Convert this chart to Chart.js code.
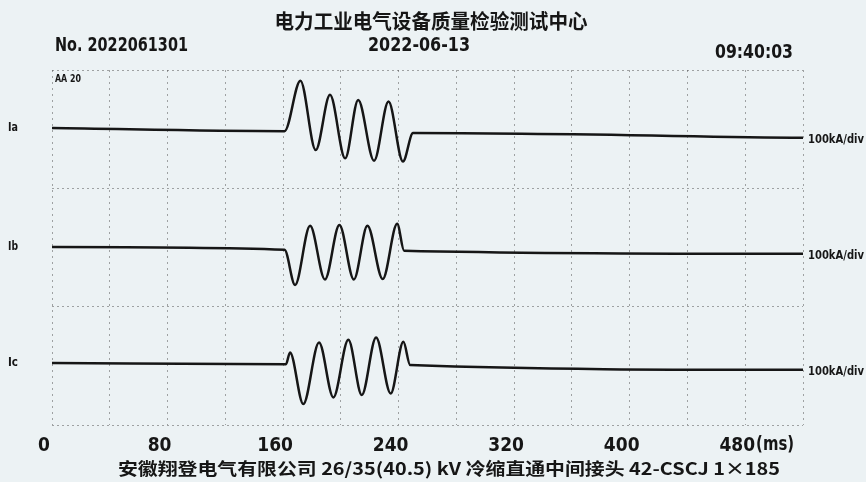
<!DOCTYPE html>
<html>
<head>
<meta charset="utf-8">
<script src="https://cdn.jsdelivr.net/npm/chart.js@4.4.1/dist/chart.umd.min.js"></script>
<style>
  html,body{margin:0;padding:0;background:#ecf2f4;}
  #wrap{width:866px;height:482px;position:relative;}
</style>
</head>
<body>
<div id="wrap"><canvas id="c"></canvas></div>
<script>
// ---- data ----
// time in ms, values in div relative to each channel's own zero line
const iaTime  = [0, 161, 172, 182.6, 192.5, 203, 212, 223, 233, 243, 250, 520];
const iaValue = [0.03, -0.05, 1.23, -0.53, 0.87, -0.74, 0.74, -0.80, 0.70, -0.82, -0.10, -0.22];
const ibTime  = [0, 161, 168.3, 178.7, 189, 199, 209, 218.4, 229, 239, 243.8, 520];
const ibValue = [0.01, -0.06, -0.95, 0.55, -0.81, 0.57, -0.81, 0.55, -0.80, 0.60, -0.08, -0.16];
const icTime  = [0, 162, 164.8, 174, 184.9, 194.8, 205.2, 214.5, 224.4, 234.5, 243.3, 248, 520];
const icValue = [0.07, 0.04, 0.34, -0.97, 0.59, -0.80, 0.66, -0.74, 0.72, -0.70, 0.61, 0.02, -0.10];
const channelNames = ['Ia', 'Ib', 'Ic'];
const channelScale = ['100kA/div', '100kA/div', '100kA/div'];
const xTickLabels = [0, 80, 160, 240, 320, 400, 480];
const titleText = '电力工业电气设备质量检验测试中心';
const dateText = '2022-06-13';
const numberText = 'No. 2022061301';
const timeText = '09:40:03';
const rangeText = 'AA 20';
const captionText = '安徽翔登电气有限公司 26/35(40.5) kV 冷缩直通中间接头 42-CSCJ 1×185';

// ---- layout / style ----
const channelOffset = [3, 0, -3];
const NARROW = '"Liberation Sans Narrow", "DejaVu Sans Condensed", "Roboto Condensed", sans-serif';
const CJK = '"Noto Sans CJK SC", "Noto Sans", sans-serif';
const INK = '#161616';

function series(t, v, off){ return t.map((x,i)=>({x:x, y:v[i]+off})); }

function fitText(ctx, text, x, y, w, font, align){
  ctx.save();
  ctx.font = font;
  ctx.textBaseline = 'middle';
  ctx.textAlign = 'left';
  const m = ctx.measureText(text).width;
  const s = w / m;
  let left = x;
  if (align === 'center') left = x - w/2;
  if (align === 'right') left = x - w;
  ctx.translate(left, y);
  ctx.scale(s, 1);
  ctx.fillStyle = INK;
  ctx.fillText(text, 0, 0);
  ctx.restore();
}

const bgPlugin = {
  id:'bg',
  beforeDraw(chart){
    const c = chart.ctx;
    c.save(); c.fillStyle = '#ecf2f4'; c.fillRect(0,0,chart.width,chart.height); c.restore();
  },
  afterDraw(chart){
    const c = chart.ctx;
    const ys = chart.scales.y, xs = chart.scales.x;
    fitText(c, titleText, 431, 21, 313, 'bold 20px ' + CJK, 'center');
    fitText(c, dateText, 419, 46, 102, 'bold 19px ' + NARROW, 'center');
    fitText(c, numberText, 55, 46, 133, 'bold 19px ' + NARROW, 'left');
    fitText(c, timeText, 715, 53, 78, 'bold 19px ' + NARROW, 'left');
    fitText(c, rangeText, 55, 79, 26, 'bold 11px ' + NARROW, 'left');
    const sets = [[iaTime, iaValue], [ibTime, ibValue], [icTime, icValue]];
    for (let i=0;i<3;i++){
      const v0 = sets[i][1][0] + channelOffset[i];
      const vEnd = sets[i][1][sets[i][1].length-1] + channelOffset[i];
      fitText(c, channelNames[i], 8, ys.getPixelForValue(v0), 10, 'bold 13px ' + NARROW, 'left');
      fitText(c, channelScale[i], 808, ys.getPixelForValue(vEnd) + 2, 56, 'bold 12px ' + NARROW, 'left');
    }
    // unit after the last tick label
    c.save();
    c.font = 'bold 19px ' + NARROW;
    const lastX = xs.getPixelForValue(480) - 8;
    const w480 = c.measureText('480').width;
    c.restore();
    fitText(c, '(ms)', lastX + w480/2 + 1, 445, 38, 'bold 19px ' + NARROW, 'left');
    fitText(c, captionText, 449, 469, 662, 'bold 17px ' + CJK, 'center');
  }
};

const lineStyle = {borderColor:INK, backgroundColor:INK, borderWidth:2.5, pointRadius:0, cubicInterpolationMode:'monotone', fill:false};

new Chart(document.getElementById('c'), {
  type:'line',
  data:{
    datasets:[
      Object.assign({label:channelNames[0], data:series(iaTime, iaValue, channelOffset[0])}, lineStyle),
      Object.assign({label:channelNames[1], data:series(ibTime, ibValue, channelOffset[1])}, lineStyle),
      Object.assign({label:channelNames[2], data:series(icTime, icValue, channelOffset[2])}, lineStyle)
    ]
  },
  options:{
    responsive:true, maintainAspectRatio:false, animation:false,
    layout:{padding:{left:52, right:63, top:70, bottom:0}},
    plugins:{legend:{display:false}, tooltip:{enabled:false}},
    scales:{
      x:{
        type:'linear', min:0, max:520,
        afterFit(s){ s.height = 57; },
        afterBuildTicks(s){ const t=[]; for(let v=0; v<=520; v+=40) t.push({value:v}); s.ticks = t; },
        ticks:{
          autoSkip:false, maxRotation:0, padding:10, labelOffset:-8,
          color:INK, font:{family:NARROW, size:19, weight:'bold'},
          callback:(v)=> xTickLabels.includes(v) ? String(v) : ''
        },
        grid:{color:'rgba(80,80,80,0.5)', lineWidth:1, drawTicks:false},
        border:{display:false, dash:[2,4]}
      },
      y:{
        type:'linear', min:-4.5, max:4.5,
        afterFit(s){ s.width = 0; },
        ticks:{display:false, stepSize:3},
        grid:{color:'rgba(80,80,80,0.5)', lineWidth:1, drawTicks:false},
        border:{display:false, dash:[2,3]}
      }
    }
  },
  plugins:[bgPlugin]
});
</script>
</body>
</html>
